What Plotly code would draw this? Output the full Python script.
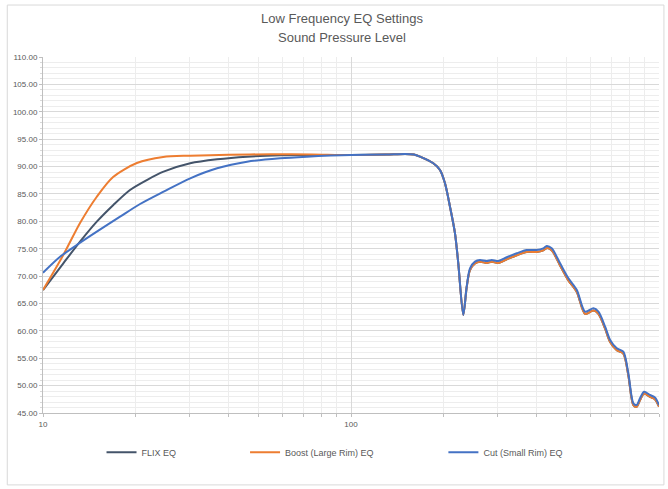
import plotly.graph_objects as go

# ---- data ----
flix_freq = [10, 11.64, 13.19, 14.95, 16.92, 19.16, 21.73, 24.63, 30.06, 36.75, 45.97, 58.9, 75, 100, 130, 150, 160,
             167.5, 185, 194.5, 201.9, 209.6, 217.6, 223, 231.5, 237.5, 243.4, 252.7, 262.3, 275.8, 286.4, 300.8,
             320.4, 345.3, 371.8, 400.6, 421, 431.8, 448.4, 477.3, 508, 541, 575.6, 612.6, 635.9, 668.5, 693.9,
             729.4, 766, 795, 825.6, 846.6, 867.6, 893.9, 934.8, 970, 1000]
flix_spl = [67.45, 72.33, 76.28, 79.93, 82.98, 85.72, 87.54, 89.06, 90.59, 91.32, 91.80, 92.05, 92.1, 92.1, 92.2, 92.3, 92.2,
            91.8, 90.59, 89.37, 86.94, 82.67, 77.81, 72.33, 62.9, 68.0, 71.1, 72.3, 72.6, 72.4, 72.6, 72.4,
            73.05, 73.8, 74.4, 74.4, 74.7, 75.1, 74.7, 71.95, 69.2, 67.1, 63.1, 63.7, 63.1, 60.4, 57.95,
            56.45, 55.85, 51.9, 46.45, 46.15, 47.35, 48.55, 47.95, 47.5, 46.15]

boost_freq = [10, 11.64, 13.19, 14.95, 16.89, 20.17, 24.55, 30.06, 40, 55, 75, 100, 130, 150, 160,
              167.5, 185, 194.5, 201.9, 209.6, 217.6, 223, 231.5, 237.5, 243.4, 252.7, 262.3, 275.8, 286.4, 300.8,
              320.4, 345.3, 371.8, 400.6, 421, 431.8, 448.4, 477.3, 508, 541, 575.6, 612.6, 635.9, 668.5, 693.9,
              729.4, 766, 795, 825.6, 846.6, 867.6, 893.9, 934.8, 970, 1000]
boost_spl = [67.46, 73.85, 79.69, 84.49, 88.09, 90.65, 91.75, 91.98, 92.15, 92.25, 92.2, 92.1, 92.2, 92.3, 92.2,
             91.8, 90.59, 89.37, 86.94, 82.67, 77.81, 72.33, 62.9, 68.0, 71.1, 72.3, 72.6, 72.4, 72.6, 72.4,
             73.05, 73.8, 74.4, 74.4, 74.7, 75.1, 74.7, 71.95, 69.2, 67.1, 63.1, 63.7, 63.1, 60.4, 57.95,
             56.45, 55.85, 51.9, 46.45, 46.15, 47.35, 48.55, 47.95, 47.5, 46.15]

cut_freq = [10, 11.36, 12.87, 14.95, 17.79, 20.66, 24.63, 30.06, 36.75, 45.97, 58.9, 71.9, 85.9, 100, 130, 150, 160,
            167.5, 185, 194.5, 201.9, 209.6, 217.6, 223, 231.5, 237.5, 243.4, 252.7, 262.3, 275.8, 286.4, 300.8,
            320.4, 345.3, 371.8, 400.6, 421, 431.8, 448.4, 477.3, 508, 541, 575.6, 612.6, 635.9, 668.5, 693.9,
            729.4, 766, 795, 825.6, 846.6, 867.6, 893.9, 934.8, 970, 1000]
cut_spl = [70.62, 73.54, 75.67, 78.10, 80.84, 83.16, 85.41, 87.85, 89.68, 90.88, 91.50, 91.80, 92.0, 92.1, 92.2, 92.3, 92.2,
           91.8, 90.59, 89.37, 86.94, 82.67, 77.81, 72.33, 62.9, 68.06, 71.42, 72.63, 72.94, 72.75, 72.94, 72.75,
           73.43, 74.16, 74.76, 74.76, 75.07, 75.49, 75.07, 72.33, 69.59, 67.46, 63.5, 64.11, 63.5, 60.76, 58.33,
           56.81, 56.2, 52.25, 46.77, 46.46, 47.68, 48.89, 48.29, 47.85, 46.46]

series_names = ["FLIX EQ", "Boost (Large Rim) EQ", "Cut (Small Rim) EQ"]
series_colors = ["#44546A", "#ED7D31", "#4472C4"]
y_ticks = [45, 50, 55, 60, 65, 70, 75, 80, 85, 90, 95, 100, 105, 110]
x_ticks = [10, 100, 1000]
title_line1 = "Low Frequency EQ Settings"
title_line2 = "Sound Pressure Level"

# ---- figure ----
fig = go.Figure()
all_series = [(flix_freq, flix_spl), (boost_freq, boost_spl), (cut_freq, cut_spl)]
legend_ids = ["legend", "legend2", "legend3"]
for (fx, fy), name, color, lg in zip(all_series, series_names, series_colors, legend_ids):
    fig.add_trace(go.Scatter(
        x=fx, y=fy, mode="lines", name=name, legend=lg,
        line=dict(color=color, width=2, shape="spline", smoothing=0.8),
    ))

font_fam = "Liberation Sans, Arial, sans-serif"
grey_text = "#595959"

legend_common = dict(orientation="h", yanchor="middle", y=-0.11, xanchor="left",
                     bgcolor="rgba(0,0,0,0)", font=dict(size=9, color=grey_text, family=font_fam),
                     itemwidth=30)

fig.update_layout(
    width=668, height=489,
    margin=dict(l=43, r=9, t=57, b=76, autoexpand=False),
    paper_bgcolor="white", plot_bgcolor="white",
    title=dict(text=title_line1,
               x=0.512, xanchor="center", xref="container",
               y=1 - 18 / 489, yanchor="middle", yref="container",
               font=dict(size=13, color=grey_text, family=font_fam)),
    annotations=[dict(text=title_line2, xref="paper", yref="paper",
                      x=(342 - 43) / 616, y=(413 - 38) / 356, xanchor="center", yanchor="middle",
                      showarrow=False, font=dict(size=13, color=grey_text, family=font_fam))],
    showlegend=True,
    legend=dict(legend_common, x=0.095),
    legend2=dict(legend_common, x=0.328),
    legend3=dict(legend_common, x=0.650),
    xaxis=dict(type="log", range=[1, 3], tickvals=x_ticks, ticktext=[str(v) for v in x_ticks],
               automargin=False,
               showgrid=True, gridcolor="#D9D9D9", gridwidth=1,
               showline=True, linecolor="#BFBFBF", linewidth=1,
               ticks="outside", ticklen=3, tickcolor="#BFBFBF",
               minor=dict(dtick="D1", showgrid=True, gridcolor="#EDEDED", gridwidth=1,
                          ticks="outside", ticklen=3, tickcolor="#BFBFBF"),
               tickfont=dict(size=8, color=grey_text, family=font_fam),
               zeroline=False),
    yaxis=dict(range=[45, 110], tickvals=y_ticks, tickformat=".2f",
               automargin=False,
               showgrid=True, gridcolor="#D9D9D9", gridwidth=1,
               showline=True, linecolor="#BFBFBF", linewidth=1,
               ticks="outside", ticklen=3, tickcolor="#BFBFBF",
               minor=dict(dtick=1, showgrid=True, gridcolor="#EDEDED", gridwidth=1,
                          ticks="outside", ticklen=2, tickcolor="#D9D9D9"),
               tickfont=dict(size=8, color=grey_text, family=font_fam),
               zeroline=False),
    shapes=[dict(type="rect", xref="paper", yref="paper",
                 x0=-0.058, x1=1.008, y0=-0.202, y1=1.146,
                 line=dict(color="#D9D9D9", width=1), fillcolor="rgba(0,0,0,0)", layer="below")],
)

fig.write_html("out.html", config={"displayModeBar": False},
               post_script="document.body.style.margin='0';document.body.style.padding='0';")
